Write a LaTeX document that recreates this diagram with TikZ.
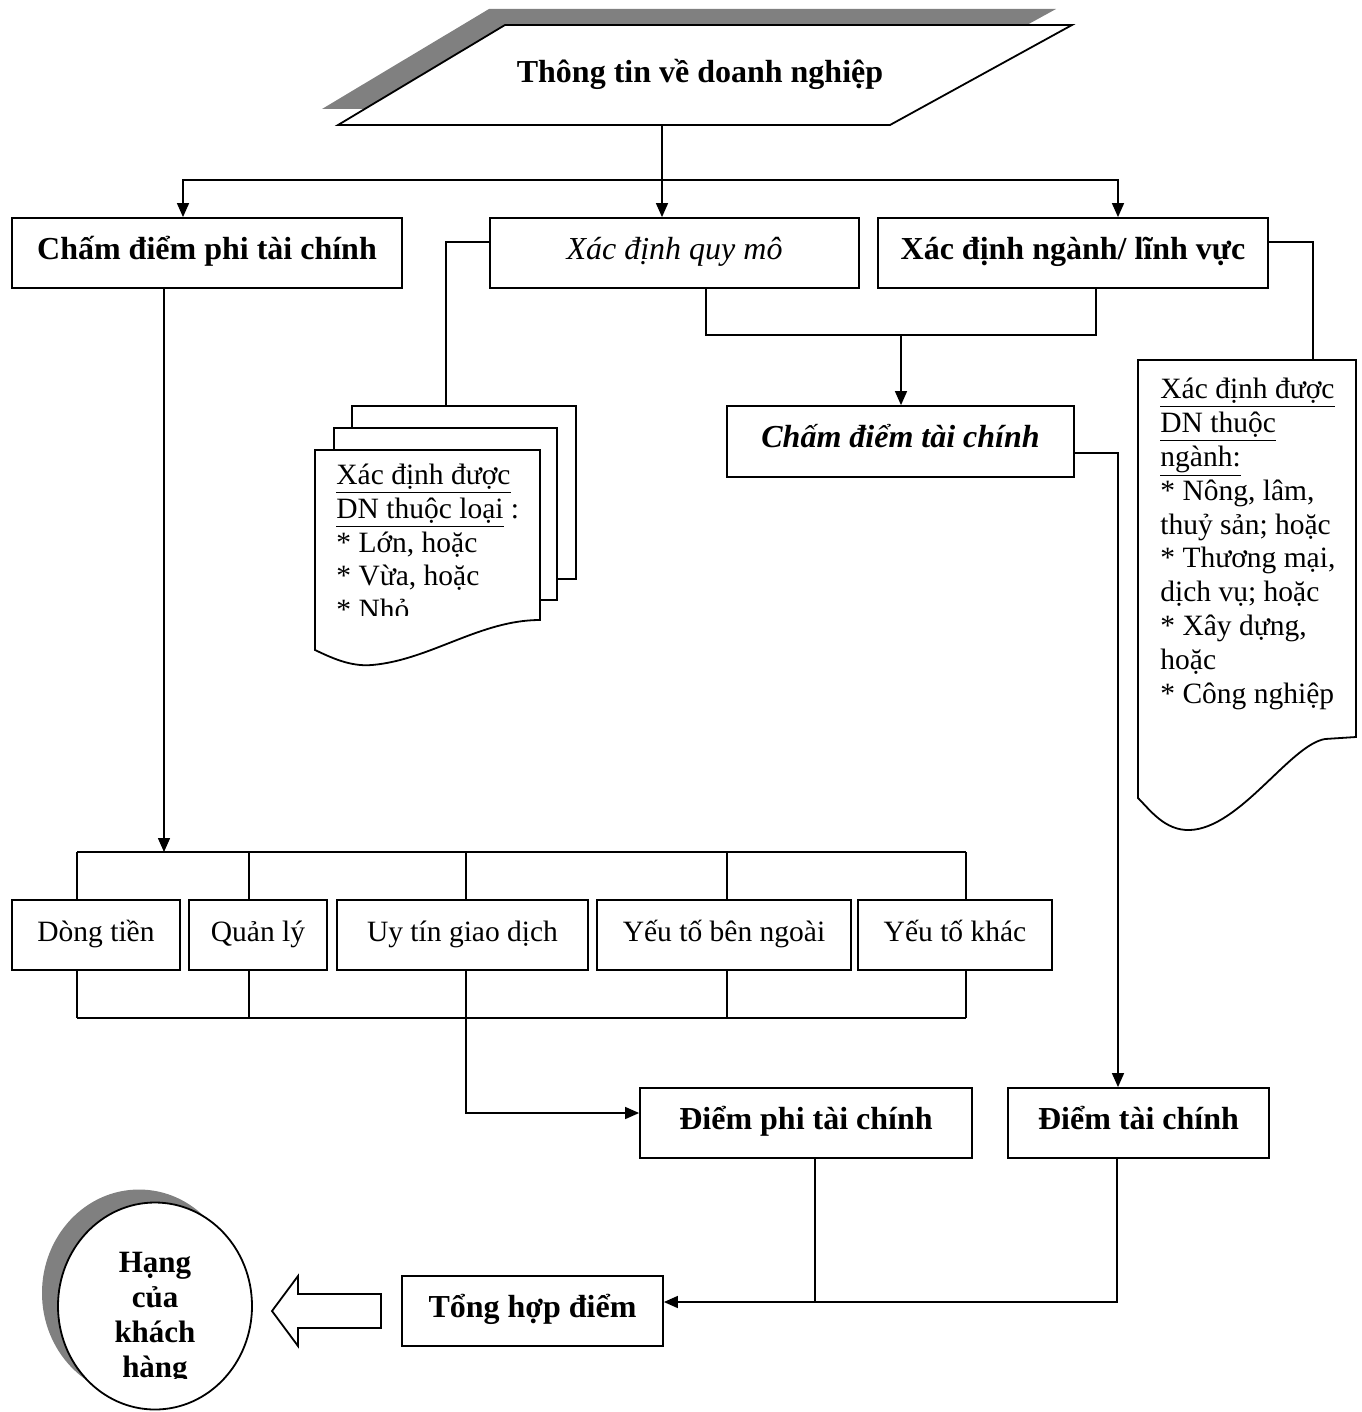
\documentclass[tikz,border=0pt]{standalone}
\usepackage{fontspec}
\setmainfont{Liberation Serif}
\usetikzlibrary{arrows.meta}
\usetikzlibrary{shapes.geometric}

\tikzset{
  box/.style={draw, line width=0.9pt, fill=white, inner sep=0pt, minimum height=35pt,
              text height=0.85em, text depth=0.25em},
  head/.style={box, font=\fontsize{16}{19}\selectfont\bfseries},
  item/.style={box, font=\fontsize{14.75}{17}\selectfont},
  sheet/.style={draw, line width=0.9pt, fill=white, inner sep=0pt},
  line/.style={line width=0.75pt},
  arr/.style={line, -{Triangle[length=7pt,width=6pt]}},
  note/.style={align=left, anchor=north west, inner sep=0pt, font=\fontsize{14.75}{16.8}\selectfont},
}

\begin{document}
\begin{tikzpicture}[x=0.5pt, y=-0.5pt]
        \useasboundingbox (0,0) rectangle (1361,1412);

        % input
        \fill[gray] (489,9) -- (1056,9) -- (874,109) -- (322,109) -- cycle;
        \draw[line width=0.9pt, fill=white] (505,25) -- (1072,25) -- (890,125) -- (338,125) -- cycle;
        \node[font=\fontsize{16}{19}\selectfont\bfseries] (info) at (700,74) {Thông tin về doanh nghiệp};
        \coordinate (infoB) at (662,125);
        \coordinate (split) at (662,180);

        \node[head, minimum width=195pt] (champhi) at (207,253) {Chấm điểm phi tài chính};
        \node[box, minimum width=184.5pt, font=\fontsize{16}{19}\selectfont\itshape] (quymo) at (674.5,253) {Xác định quy mô};
        \node[head, minimum width=195pt] (nganh) at (1073,253) {Xác định ngành/ lĩnh vực};
        \node[box, minimum width=173.5pt, minimum height=35.5pt, font=\fontsize{16}{19}\selectfont\bfseries\itshape] (chamtc) at (900.5,441.5) {Chấm điểm tài chính};

        \draw[line] (infoB) -- (split);
        \draw[arr] (split) -| ([xshift=-12pt]champhi.north);
        \draw[arr] (split) -| ([xshift=22.5pt]nganh.north);
        \draw[arr] (split) -- (split |- quymo.north);

        % size documents
        \node[sheet, minimum width=112pt, minimum height=86.5pt] (sizeback) at (464,492.5) {};
        \node[sheet, minimum width=111.5pt, minimum height=86pt] (sizemid) at (445.5,514) {};
        \draw[line width=0.9pt, fill=white] (315,450) -- (540,450) -- (540,620)
            .. controls (480,620) and (430,660) .. (372,665)
            .. controls (350,667) and (330,657) .. (315,650) -- cycle;
        \begin{scope}
            \clip (315,450) rectangle (540,615);
            \node[note] (sizenote) at (336,464) {\underline{Xác định được}\\\underline{DN thuộc loại} :\\* Lớn, hoặc\\* Vừa, hoặc\\* Nhỏ};
        \end{scope}
        \draw[line] ([yshift=5.5pt]quymo.west) -| ([xshift=-9pt]sizeback.north);

        % sector document
        \draw[line width=0.9pt, fill=white] (1138,360) -- (1356,360) -- (1356,737) -- (1325,739)
            .. controls (1290,745) and (1240,828) .. (1190,830)
            .. controls (1165,831) and (1150,810) .. (1138,798) -- cycle;
        \coordinate (sectortop) at (1313,360);
        \node[note, font=\fontsize{14.75}{16.9}\selectfont] (sectornote) at (1160,378) {\underline{Xác định được}\\\underline{DN thuộc}\\\underline{ngành:}\\* Nông, lâm,\\thuỷ sản; hoặc\\* Thương mại,\\dịch vụ; hoặc\\* Xây dựng,\\hoặc\\* Công nghiệp};
        \draw[line] ([yshift=5.5pt]nganh.east) -| (sectortop);

        \coordinate (merge) at (901,335);
        \draw[line] ([xshift=15.75pt]quymo.south) |- (merge) -| ([xshift=11.5pt]nganh.south);
        \draw[arr] (merge) -- (merge |- chamtc.north);

        % non-financial factors
        \node[item, minimum width=84pt] (dong) at (96,935) {Dòng tiền};
        \node[item, minimum width=69pt] (quanly) at (258,935) {Quản lý};
        \node[item, minimum width=125.5pt] (uytin) at (462.5,935) {Uy tín giao dịch};
        \node[item, minimum width=127pt] (ngoai) at (724,935) {Yếu tố bên ngoài};
        \node[item, minimum width=97pt] (khac) at (955,935) {Yếu tố khác};

        \coordinate (busT) at (77,852);
        \coordinate (busTR) at (966,852);
        \coordinate (busB) at (77,1018);
        \coordinate (busBR) at (966,1018);
        \draw[line] (busT) -- (busTR);
        \draw[line] (busB) -- (busBR);
        \foreach \b/\x in {dong/77,quanly/249,uytin/466,ngoai/727,khac/966}{
            \draw[line] (\x,0 |- busT) -- (\x,0 |- \b.north);
            \draw[line] (\x,0 |- \b.south) -- (\x,0 |- busB);
        }
        \coordinate (phiout) at ([xshift=-21.5pt]champhi.south);
        \draw[arr] (phiout) -- (phiout |- busT);

        % scores
        \node[head, minimum width=166pt] (diemphi) at (806,1123) {Điểm phi tài chính};
        \node[head, minimum width=130.5pt] (diemtc) at (1138.5,1123) {Điểm tài chính};
        \node[head, minimum width=130.5pt] (tonghop) at (532.5,1311) {Tổng hợp điểm};

        \coordinate (uyout) at (466,1018);
        \draw[arr] (uyout) |- ([yshift=5pt]diemphi.west);
        \draw[arr] ([yshift=-5.75pt]chamtc.east) -| ([xshift=-10.25pt]diemtc.north);

        \coordinate (join) at ([yshift=4.5pt]tonghop.east);
        \coordinate (phiin) at ([xshift=4.5pt]diemphi.south);
        \draw[arr] ([xshift=-10.75pt]diemtc.south) |- (join);
        \draw[line] (phiin) -- (phiin |- join);

        % rank
        \draw[line width=0.9pt, fill=white] (381,1294) -- (298,1294) -- (298,1276) -- (272,1311)
            -- (298,1346) -- (298,1328) -- (381,1328) -- cycle;
        \fill[gray] (139,1293) ellipse [x radius=48.5pt, y radius=51.75pt];
        \node[ellipse, draw, line width=0.9pt, fill=white, minimum width=97pt, minimum height=103.5pt, inner sep=0pt] (rank) at (155,1306) {};
        \begin{scope}
            \clip (40,1180) rectangle (270,1378);
            \node[font=\fontsize{15.5}{17.5}\selectfont\bfseries, align=center, anchor=north, inner sep=0pt] (ranktext) at (155,1252) {Hạng\\của\\khách\\hàng};
        \end{scope}

\end{tikzpicture}
\end{document}
